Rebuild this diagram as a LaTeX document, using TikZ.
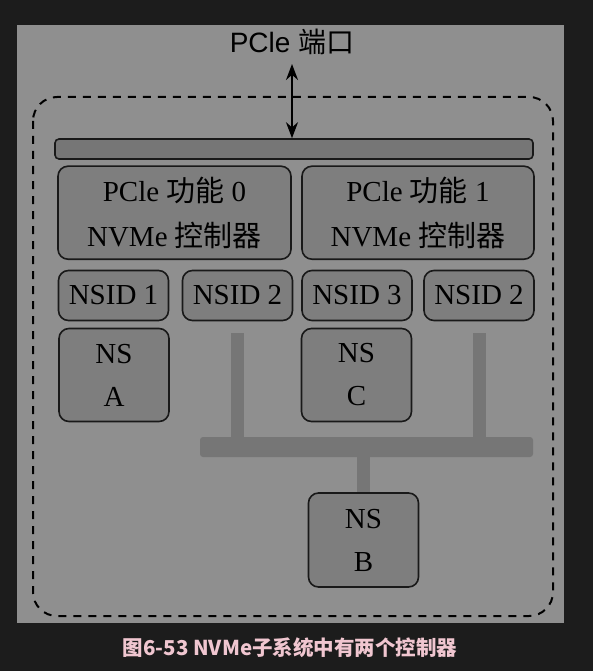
\documentclass[tikz,border=0pt]{standalone}
\usepackage{fontspec}
\setmainfont{Liberation Serif}
\setsansfont{Liberation Sans}
\newfontfamily\cjk{Noto Sans CJK SC}
\usetikzlibrary{arrows.meta}
\definecolor{pagebg}{HTML}{1C1C1C}
\definecolor{panelgray}{HTML}{8F8F8F}
\definecolor{boxgray}{HTML}{7E7E7E}
\definecolor{busgray}{HTML}{767676}
\definecolor{captionpink}{HTML}{F0C6D0}
\newcommand{\zh}[1]{{\cjk #1}}

\begin{document}
\begin{tikzpicture}[x=1pt, y=-1pt,
    box/.style={draw=black!90, line width=1.6pt, fill=boxgray, rounded corners=10pt,
        inner sep=0pt, align=center, font=\fontsize{29}{45}\selectfont},
    nsbox/.style={box, minimum width=110pt, minimum height=93pt, font=\fontsize{29}{43}\selectfont},
    idbox/.style={box, minimum width=110pt, minimum height=50pt},
    stem/.style={line width=13pt, busgray}]
    \useasboundingbox (0,0) rectangle (593,671);
    \fill[pagebg] (0,0) rectangle (593,671);
    \fill[panelgray] (17,25) rectangle (564,623);
    % Subsystem border
    \draw[line width=2pt, dash pattern=on 8pt off 7pt, rounded corners=24pt] (33,97) rectangle (553,616);
    % Port and bus
    \node[anchor=base, inner sep=0pt, font=\sffamily\fontsize{28}{30}\selectfont] (port) at (292,53) {PCle \zh{端口}};
    \node[box, rounded corners=4pt, fill=busgray, minimum width=478pt, minimum height=20pt] (bus) at (294,149) {};
    \coordinate (porttip) at (292,64);
    \draw[{Stealth[length=16pt,width=12pt]}-{Stealth[length=16pt,width=12pt]}, line width=2pt] (porttip) -- (porttip |- bus.north);
    % Controllers
    \node[box, minimum width=233pt, minimum height=93pt] (ctrl0) at (174.5,212.7) {PCle \zh{功能} 0\\NVMe \zh{控制器}};
    \node[box, minimum width=232pt, minimum height=93pt] (ctrl1) at (418,212.7) {PCle \zh{功能} 1\\NVMe \zh{控制器}};
    % Namespace IDs
    \node[idbox] (nsid1) at (113.5,295.5) {NSID 1};
    \node[idbox] (nsid2a) at (237.5,295.5) {NSID 2};
    \node[idbox] (nsid3) at (357,295.5) {NSID 3};
    \node[idbox] (nsid2b) at (479,295.5) {NSID 2};
    % Namespaces
    \node[nsbox] (nsa) at (114,375) {NS\\A};
    \node[nsbox] (nsc) at (356.5,375) {NS\\C};
    \node[nsbox, minimum height=94pt] (nsb) at (363.5,540) {NS\\B};
    % Shared link
    \node[fill=busgray, rounded corners=3pt, minimum width=333pt, minimum height=20pt, inner sep=0pt] (share) at (366.5,447) {};
    \draw[stem] ([yshift=-12pt]nsid2a.south) -- (nsid2a.south |- share.north);
    \draw[stem] ([yshift=-12pt]nsid2b.south) -- (nsid2b.south |- share.north);
    \draw[stem] (share.south -| nsb.north) -- (nsb.north);
    % Caption
    \node[anchor=base, inner sep=0pt, text=captionpink, font=\cjk\bfseries\fontsize{20.5}{24}\selectfont] (caption) at (290,655) {图6-53 NVMe子系统中有两个控制器};
\end{tikzpicture}
\end{document}
